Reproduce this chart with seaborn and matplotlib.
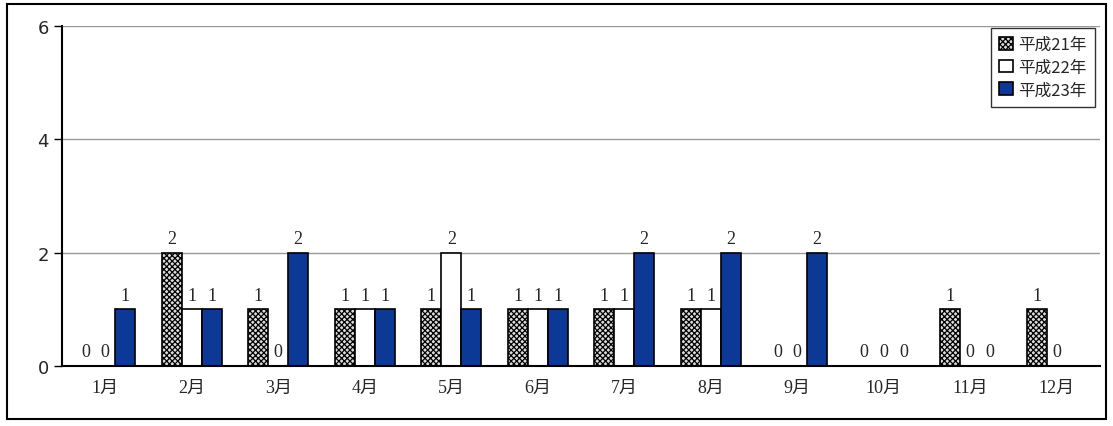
import pandas as pd
import numpy as np
import matplotlib
matplotlib.use('Agg')
import matplotlib.pyplot as plt
import seaborn as sns
from matplotlib.patches import Rectangle

# Chart data
months = ['1月', '2月', '3月', '4月', '5月', '6月', '7月', '8月', '9月', '10月', '11月', '12月']
series_names = ['平成21年', '平成22年', '平成23年']
h21 = [0, 2, 1, 1, 1, 1, 1, 1, 0, 0, 1, 1]
h22 = [0, 1, 0, 1, 2, 1, 1, 1, 0, 0, 0, 0]
h23 = [1, 1, 2, 1, 1, 1, 2, 2, 2, 0, 0, np.nan]
y_ticks = [0, 2, 4, 6]

sns.set_style('white')
plt.rcParams['font.family'] = ['Liberation Serif', 'Noto Sans CJK JP', 'DejaVu Sans']
plt.rcParams['hatch.linewidth'] = 0.9

df = pd.DataFrame({
    'month': months * 3,
    'series': [s for s in series_names for _ in months],
    'value': h21 + h22 + h23,
})

fig = plt.figure(figsize=(11.13, 4.27), dpi=100)
ax = fig.add_axes([62 / 1113, 1 - 367 / 427, (1100 - 62) / 1113, (367 - 27) / 427])

palette = {'平成21年': '#dcdcdc', '平成22年': '#ffffff', '平成23年': '#0c3896'}
sns.barplot(data=df, x='month', y='value', hue='series', palette=palette,
            saturation=1, width=0.69, edgecolor='black', linewidth=1.2, ax=ax, legend=True)

# checker pattern for the first series
for bar in ax.containers[0]:
    bar.set_hatch('xxxxxx')

# value labels
for cont, vals in zip(ax.containers, [h21, h22, h23]):
    for bar, v in zip(cont, vals):
        if np.isnan(v):
            continue
        ax.text(bar.get_x() + bar.get_width() / 2, v + 0.1, f'{int(v)}',
                ha='center', va='bottom', fontsize=13, family='Liberation Serif')

ax.set_ylim(0, 6)
ax.set_xlim(-0.5, 11.5)
ax.set_yticks(y_ticks)
ax.set_yticklabels([str(t) for t in y_ticks], family='DejaVu Sans', fontsize=13)
ax.yaxis.grid(True, color='#999999', linewidth=1)
ax.set_axisbelow(True)
ax.set_xlabel('')
ax.set_ylabel('')

ax.set_xticks(range(12))
ax.set_xticklabels(months, fontsize=13)
ax.tick_params(axis='x', which='major', length=0, pad=9)
ax.set_xticks(np.arange(-0.5, 12, 1), minor=True)
ax.tick_params(axis='x', which='minor', direction='in', length=5, width=1, color='black')
ax.tick_params(axis='y', direction='out', length=6, width=1, color='black', left=True)

for side in ['top', 'right']:
    ax.spines[side].set_visible(False)
for side in ['left', 'bottom']:
    ax.spines[side].set_color('black')
    ax.spines[side].set_linewidth(1.5)

handles, labels = ax.get_legend_handles_labels()
leg = ax.legend(handles, labels, loc='upper right', bbox_to_anchor=(0.998, 1.005),
                frameon=True, fancybox=False, edgecolor='black',
                handlelength=0.8, handleheight=0.8, handletextpad=0.3,
                borderpad=0.5, labelspacing=0.35, borderaxespad=0.2,
                prop={'family': ['Noto Sans CJK JP'], 'size': 12})
leg.get_frame().set_linewidth(1.0)
leg.legend_handles[0].set_hatch('xxxxxx')

# outer frame
fig.patches.append(Rectangle((7 / 1113, 7 / 427), 1 - 14 / 1113, 1 - 12 / 427,
                             transform=fig.transFigure, fill=False,
                             edgecolor='black', linewidth=1.5))

fig.savefig('out.png', dpi=100)
